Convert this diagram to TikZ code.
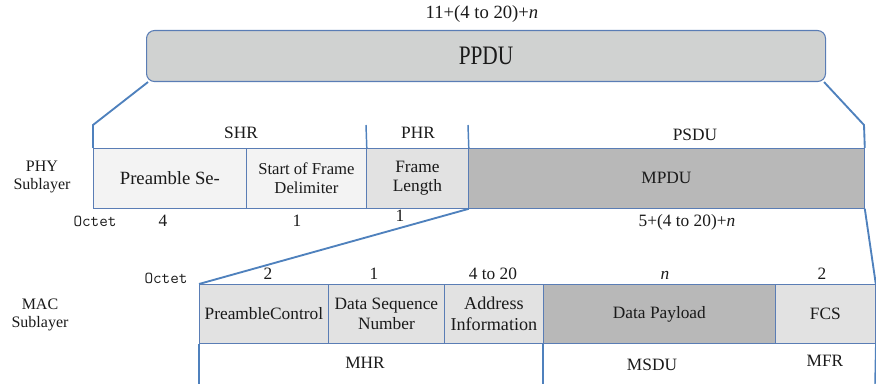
\documentclass[tikz,border=0pt]{standalone}
\usepackage{fontspec}
\setmainfont{Liberation Serif}
\newfontfamily\narrowserif[FakeStretch=0.8]{Liberation Serif}
\definecolor{linkblue}{HTML}{4F81BD}
\definecolor{cellline}{HTML}{5A7DB5}
\definecolor{ppdufill}{HTML}{D0D2D1}
\definecolor{lightfill}{HTML}{F3F3F3}
\definecolor{midfill}{HTML}{E2E2E2}
\definecolor{darkfill}{HTML}{B8B8B8}
\definecolor{txt}{HTML}{1A1A1A}
\newcommand{\fs}[1]{\fontsize{#1}{1.12\dimexpr #1pt\relax}\selectfont}
\begin{document}
\begin{tikzpicture}[x=0.75pt,y=-0.75pt,
  txtfont/.style={font=\fs{13}, text=txt},
  cell/.style={draw=cellline, line width=0.6pt, anchor=north west, inner sep=1pt,
    align=center, txtfont},
  phycell/.style={cell, minimum height=45pt},
  maccell/.style={cell, minimum height=44.25pt},
  link/.style={draw=linkblue, line width=1.4pt},
  tick/.style={draw=linkblue, line width=1.1pt},
  lbl/.style={txtfont, inner sep=0pt},
  octet/.style={font=\ttfamily\fs{12.5}, text=txt, inner sep=0pt},
  side/.style={font=\fs{12}, text=txt, align=center, inner sep=0pt}
]
\useasboundingbox (0,0) rectangle (876,384);

% frame length and whole PPDU
\node[lbl, font=\fs{14}] (total) at (482,14) {11+(4 to 20)+\textit{n}};
\node[draw=cellline, line width=0.8pt, fill=ppdufill, rounded corners=6pt,
  minimum width=509.25pt, minimum height=38.25pt, anchor=north west,
  font=\narrowserif\fs{20}, text=txt] (ppdu) at (146,30) {PPDU};

% PHY sublayer fields
\node[phycell, fill=lightfill, minimum width=114.75pt, font=\fs{14}] (pre) at (93,148) {Preamble Se-};
\node[phycell, fill=lightfill, minimum width=90pt, font=\fs{12.5}] (sfd) at (246,148) {Start of Frame\\Delimiter};
\node[phycell, fill=midfill, minimum width=76.5pt] (flen) at (366,148) {Frame\\Length};
\node[phycell, fill=darkfill, minimum width=297pt] (mpdu) at (468,148) {MPDU};

\node[side] (phy) at (42,177) {PHY\\Sublayer};
\node[lbl] (shr) at (241,133) {SHR};
\node[lbl] (phr) at (418,133) {PHR};
\node[lbl] (psdu) at (695,135) {PSDU};
\coordinate (phrL) at (366,125);
\coordinate (psduL) at (468,125);
\draw[tick] (phrL) -- (sfd.north east);
\draw[tick] (psduL) -- (flen.north east);

\node[octet] (oct1) at (95,221) {Octet};
\node[lbl] (o4) at (163,221) {4};
\node[lbl] (o1a) at (297,221) {1};
\node[lbl] (o1b) at (400,216) {1};
\node[lbl] (o5) at (687,222) {5+(4 to 20)+\textit{n}};

% PPDU expands into the PHY frame
\coordinate (pl) at (93,125);
\coordinate (pr) at (864,125);
\draw[link] ([xshift=1.5pt]ppdu.south west) -- (pl) -- (pre.north west);
\draw[link] ([xshift=-1.5pt]ppdu.south east) -- (pr) -- (mpdu.north east);

% MAC sublayer fields
\node[maccell, fill=midfill, minimum width=96.75pt] (pctl) at (199,284) {PreambleControl};
\node[maccell, fill=midfill, minimum width=87pt] (dsn) at (328,284) {Data Sequence\\Number};
\node[maccell, fill=midfill, minimum width=74.25pt, font=\fs{13.6}] (addr) at (444,284) {Address\\Information};
\node[maccell, fill=darkfill, minimum width=174pt] (pay) at (543,284) {Data Payload};
\node[maccell, fill=midfill, minimum width=75pt] (fcs) at (775,284) {FCS};

\node[side] (mac) at (40,315) {MAC\\Sublayer};
\node[octet] (oct2) at (166,278) {Octet};
\node[lbl] (m2a) at (268,274) {2};
\node[lbl] (m1) at (374,274) {1};
\node[lbl] (m420) at (493,274) {4 to 20};
\node[lbl] (mn) at (665,275) {\textit{n}};
\node[lbl] (m2b) at (822,274) {2};

% MPDU expands into the MAC frame
\draw[link] (flen.south east) -- (pctl.north west);
\draw[link] (mpdu.south east) -- (fcs.north east);

% MAC header / payload / footer brackets
\coordinate (b1) at (199,384);
\coordinate (b2) at (543,384);
\coordinate (b3) at (875,384);
\draw[tick] (pctl.south west) -- (b1);
\draw[tick] (pay.south west) -- (b2);
\draw[tick] (fcs.south east) -- (b3);
\node[lbl] (mhr) at (365,363) {MHR};
\node[lbl] (msdu) at (652,365) {MSDU};
\node[lbl] (mfr) at (825,361) {MFR};
\end{tikzpicture}
\end{document}
